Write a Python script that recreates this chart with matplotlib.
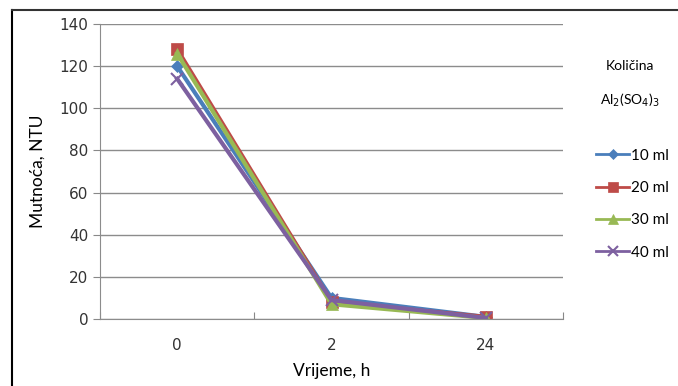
import matplotlib.pyplot as plt
from matplotlib.lines import Line2D

# podaci
vrijeme = ['0', '2', '24']
serije = ['10 ml', '20 ml', '30 ml', '40 ml']
v10 = [120, 10, 1]
v20 = [128, 8, 1]
v30 = [126, 7, 0.5]
v40 = [114, 9, 0.5]
vrijednosti = [v10, v20, v30, v40]

boje = ['#4A7EBB', '#BE4B48', '#98B954', '#7D60A0']
markeri = ['D', 's', '^', 'x']
msize = [6, 8, 8, 8]

fig = plt.figure(figsize=(6.78, 3.86), dpi=100)
ax = fig.add_axes([100 / 678, 1 - 319 / 386, 463 / 678, 295 / 386])

x = range(len(vrijeme))
for vals, c, m, ms, lab in zip(vrijednosti, boje, markeri, msize, serije):
    ax.plot(x, vals, color=c, lw=3, marker=m, markersize=ms,
            markeredgewidth=1.5 if m == 'x' else 0.5, label=lab)

ax.set_xlim(-0.5, 2.5)
ax.set_ylim(0, 140)
ax.set_yticks(range(0, 141, 20))
ax.set_xticks([-0.5, 0.5, 1.5, 2.5], minor=False)
ax.set_xticklabels([])
ax.set_xticks(list(x), minor=True)
ax.set_xticklabels(vrijeme, minor=True)
ax.tick_params(axis='x', which='minor', length=0, pad=14, labelsize=11,
               labelcolor='#333333')
ax.tick_params(axis='x', which='major', length=5, color='#888888', direction='in')
ax.tick_params(axis='y', length=5, color='#888888', direction='out',
               labelsize=11, labelcolor='#333333')
ax.grid(axis='y', color='#8c8c8c', lw=1)
ax.set_axisbelow(True)
for s in ['top', 'right']:
    ax.spines[s].set_visible(False)
for s in ['left', 'bottom']:
    ax.spines[s].set_color('#8c8c8c')

ax.set_ylabel('Mutnoća, NTU', fontsize=12.5, family='Lato', labelpad=10)
ax.set_xlabel('Vrijeme, h', fontsize=12.5, family='Lato', labelpad=7)

# legenda
fig.text(630 / 678, 1 - 66 / 386, 'Količina', ha='center', va='center',
         fontsize=10, family='Lato')
fig.text(630 / 678, 1 - 100 / 386, r'Al$_2$(SO$_4$)$_3$', ha='center', va='center',
         fontsize=10, family='Lato')
handles = [Line2D([0], [0], color=c, lw=2, marker=m, markersize=ms * 0.85,
                  markeredgewidth=1.5 if m == 'x' else 0.5)
           for c, m, ms in zip(boje, markeri, msize)]
fig.legend(handles, serije, loc='upper left', bbox_to_anchor=(582 / 678, 1 - 135 / 386),
           frameon=False, handlelength=2.2, handletextpad=0.1,
           labelspacing=1.2, prop={'family': 'Lato', 'size': 11})

# okvir
fig.add_artist(Line2D([12 / 678, 12 / 678], [0, 1 - 10 / 386], color='black', lw=1.5,
                      transform=fig.transFigure))
fig.add_artist(Line2D([12 / 678, 1], [1 - 10 / 386, 1 - 10 / 386], color='#333333',
                      lw=1.5, transform=fig.transFigure))

fig.savefig('out.png', dpi=100)
